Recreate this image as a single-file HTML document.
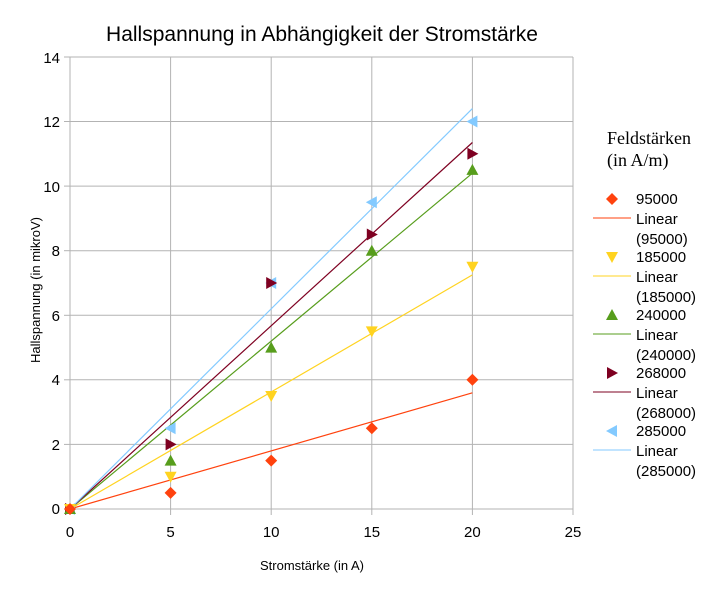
<!DOCTYPE html>
<html><head><meta charset="utf-8"><style>body{margin:0;background:#fff}svg{display:block}</style></head><body>
<svg width="724" height="600" xmlns="http://www.w3.org/2000/svg" font-family="Liberation Sans, sans-serif">
<rect width="724" height="600" fill="#fff"/>
<text x="322" y="41" font-size="21" text-anchor="middle">Hallspannung in Abhängigkeit der Stromstärke</text>
<g stroke="#b3b3b3" stroke-width="1">
<line x1="70" y1="57" x2="573" y2="57"/><line x1="70" y1="121.5" x2="573" y2="121.5"/><line x1="70" y1="186.1" x2="573" y2="186.1"/><line x1="70" y1="250.7" x2="573" y2="250.7"/><line x1="70" y1="315.3" x2="573" y2="315.3"/><line x1="70" y1="379.8" x2="573" y2="379.8"/><line x1="70" y1="444.4" x2="573" y2="444.4"/><line x1="64" y1="509" x2="573" y2="509"/>
<line x1="70" y1="57" x2="70" y2="515"/><line x1="170.6" y1="57" x2="170.6" y2="515"/><line x1="271.2" y1="57" x2="271.2" y2="515"/><line x1="371.8" y1="57" x2="371.8" y2="515"/><line x1="472.4" y1="57" x2="472.4" y2="515"/><line x1="573" y1="57" x2="573" y2="515"/>
<line x1="64" y1="57" x2="70" y2="57"/><line x1="64" y1="121.5" x2="70" y2="121.5"/><line x1="64" y1="186.1" x2="70" y2="186.1"/><line x1="64" y1="250.7" x2="70" y2="250.7"/><line x1="64" y1="315.3" x2="70" y2="315.3"/><line x1="64" y1="379.8" x2="70" y2="379.8"/><line x1="64" y1="444.4" x2="70" y2="444.4"/>
</g>
<g font-size="15" text-anchor="end">
<text x="60" y="63">14</text><text x="60" y="127">12</text><text x="60" y="192">10</text><text x="60" y="256">8</text><text x="60" y="321">6</text><text x="60" y="385">4</text><text x="60" y="450">2</text><text x="60" y="514">0</text>
</g>
<g font-size="15" text-anchor="middle">
<text x="70" y="537">0</text><text x="170.6" y="537">5</text><text x="271.2" y="537">10</text><text x="371.8" y="537">15</text><text x="472.4" y="537">20</text><text x="573" y="537">25</text>
</g>
<text x="312" y="570" font-size="13" text-anchor="middle">Stromstärke (in A)</text>
<text transform="translate(40,290) rotate(-90)" font-size="13" text-anchor="middle">Hallspannung (in mikroV)</text>
<g stroke-width="1.2">
<line x1="70" y1="509" x2="472.4" y2="392.8" stroke="#ff420e"/>
<line x1="70" y1="509" x2="472.4" y2="274.9" stroke="#ffd320"/>
<line x1="70" y1="509" x2="472.4" y2="173.2" stroke="#579d1c"/>
<line x1="70" y1="509" x2="472.4" y2="142.5" stroke="#7e0021"/>
<line x1="70" y1="509" x2="472.4" y2="108.6" stroke="#83caff"/>
</g>
<defs>
<path id="dia" d="M0,-6 L6,0 L0,6 L-6,0Z" fill="#ff420e"/>
<path id="dn" d="M-6,-5 L6,-5 L0,6Z" fill="#ffd320"/>
<path id="up" d="M-6,5 L6,5 L0,-6Z" fill="#579d1c"/>
<path id="rt" d="M-5,-6 L6,0 L-5,6Z" fill="#7e0021"/>
<path id="lf" d="M5,-6 L-6,0 L5,6Z" fill="#83caff"/>
</defs>
<use href="#lf" x="70" y="509"/><use href="#lf" x="170.6" y="428.3"/><use href="#lf" x="271.2" y="283"/><use href="#lf" x="371.8" y="202.2"/><use href="#lf" x="472.4" y="121.5"/>
<use href="#rt" x="70" y="509"/><use href="#rt" x="170.6" y="444.4"/><use href="#rt" x="271.2" y="283"/><use href="#rt" x="371.8" y="234.5"/><use href="#rt" x="472.4" y="153.8"/>
<use href="#up" x="70" y="509"/><use href="#up" x="170.6" y="460.6"/><use href="#up" x="271.2" y="347.6"/><use href="#up" x="371.8" y="250.7"/><use href="#up" x="472.4" y="169.9"/>
<use href="#dn" x="70" y="509"/><use href="#dn" x="170.6" y="476.7"/><use href="#dn" x="271.2" y="396"/><use href="#dn" x="371.8" y="331.4"/><use href="#dn" x="472.4" y="266.8"/>
<use href="#dia" x="70" y="509"/><use href="#dia" x="170.6" y="492.9"/><use href="#dia" x="271.2" y="460.6"/><use href="#dia" x="371.8" y="428.3"/><use href="#dia" x="472.4" y="379.8"/>
<text x="607" y="144" font-size="18" font-family="Liberation Serif, serif">Feldstärken</text>
<text x="607" y="166" font-size="18" font-family="Liberation Serif, serif">(in A/m)</text>
<g font-size="15">
<use href="#dia" x="612" y="199"/><text x="636" y="204">95000</text>
<line x1="593" y1="218" x2="631" y2="218" stroke="#ff420e"/><text x="636" y="224">Linear</text><text x="636" y="244">(95000)</text>
<use href="#dn" x="612" y="257"/><text x="636" y="262">185000</text>
<line x1="593" y1="276" x2="631" y2="276" stroke="#ffd320"/><text x="636" y="282">Linear</text><text x="636" y="302">(185000)</text>
<use href="#up" x="612" y="315"/><text x="636" y="320">240000</text>
<line x1="593" y1="334" x2="631" y2="334" stroke="#579d1c"/><text x="636" y="340">Linear</text><text x="636" y="360">(240000)</text>
<use href="#rt" x="612" y="373"/><text x="636" y="378">268000</text>
<line x1="593" y1="392" x2="631" y2="392" stroke="#7e0021"/><text x="636" y="398">Linear</text><text x="636" y="418">(268000)</text>
<use href="#lf" x="612" y="431"/><text x="636" y="436">285000</text>
<line x1="593" y1="450" x2="631" y2="450" stroke="#83caff"/><text x="636" y="456">Linear</text><text x="636" y="476">(285000)</text>
</g>
</svg>
</body></html>
